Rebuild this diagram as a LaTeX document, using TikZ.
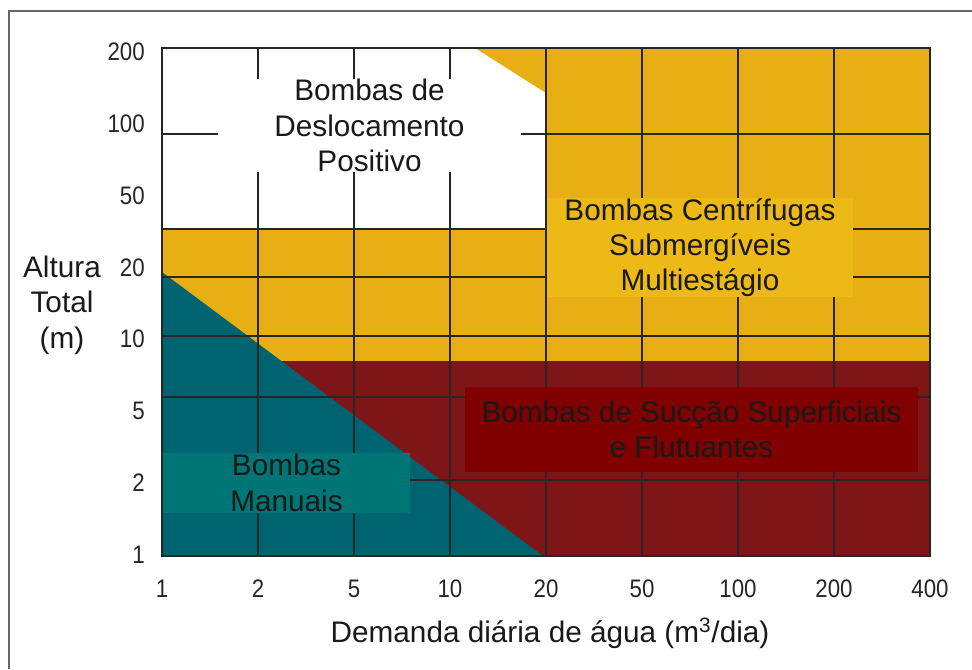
\documentclass[tikz,border=0pt]{standalone}
\usepackage{fontspec}
\setmainfont{Liberation Sans}
\usepackage{tikz}

\definecolor{amarelo}{RGB}{232,175,20}
\definecolor{amareloclaro}{RGB}{236,185,22}
\definecolor{vermelho}{RGB}{126,21,23}
\definecolor{vermelhoescuro}{RGB}{128,0,0}
\definecolor{petroleo}{RGB}{0,100,112}
\definecolor{petroleoclaro}{RGB}{0,117,118}

\newcommand{\estreito}[1]{\scalebox{0.88}[1]{#1}}

\begin{document}
\begin{tikzpicture}[x=0.75pt, y=-0.75pt,
	every node/.style={font=\fontsize{22.3}{26.5}\selectfont, inner sep=0pt},
	rotulo/.style={align=center, text=black!90},
	escala/.style={font=\fontsize{19}{22}\selectfont, text=black!85},
	grade/.style={black!85, line width=0.8pt}]
			\useasboundingbox (0,0) rectangle (972,669);
			\draw[black!60, line width=1.4pt] (9,669) -- (9,11) -- (972,11);
			
			% regioes
			\fill[amarelo] (475,48) -- (930,48) -- (930,361) -- (162,361) -- (162,229) -- (546,229) -- (546,93) -- cycle;
			\fill[vermelho] (162,361) rectangle (930,556);
			\fill[petroleo] (162,272) -- (543,556) -- (162,556) -- cycle;
			
			% grade
			\foreach \x in {258,354,...,834} \draw[grade] (\x,48) -- (\x,556);
			\foreach \y in {134,229,277,336,397,480} \draw[grade] (162,\y) -- (930,\y);
			\draw[grade] (162,48) rectangle (930,556);
			
			\node[rotulo, fill=white, minimum width=227pt, minimum height=68pt] (deslocamento) at (369.5,125.5) {Bombas de\\Deslocamento\\Positivo};
			\node[rotulo, fill=amareloclaro, minimum width=229.5pt, minimum height=63.75pt] (centrifugas) at (700,247.5) {Bombas Centrífugas\\Submergíveis\\Multiestágio};
			\node[rotulo, fill=vermelhoescuro, minimum width=339.75pt, minimum height=63.75pt] (succao) at (691.5,429.5) {Bombas de Sucção Superficiais\\e Flutuantes};
			\node[rotulo, fill=petroleoclaro, minimum width=185.25pt, minimum height=45pt] (manuais) at (286.5,483) {Bombas\\Manuais};
			
			\foreach \v [count=\i from 0] in {200,100,50,20,10,5,2,1}
				\node[escala, anchor=east] (y\i) at (145,{52+71.8*\i}) {\estreito{\v}};
			\foreach \v [count=\i from 0] in {1,2,5,10,20,50,100,200,400}
				\node[escala] (x\i) at ({162+96*\i},589) {\estreito{\v}};
			
			\node[rotulo] (eixox) at (550,633) {Demanda diária de água (m\textsuperscript{3}/dia)};
			\node[rotulo] (eixoy) at (62,305) {Altura\\Total\\(m)};
		\end{tikzpicture}
\end{document}
